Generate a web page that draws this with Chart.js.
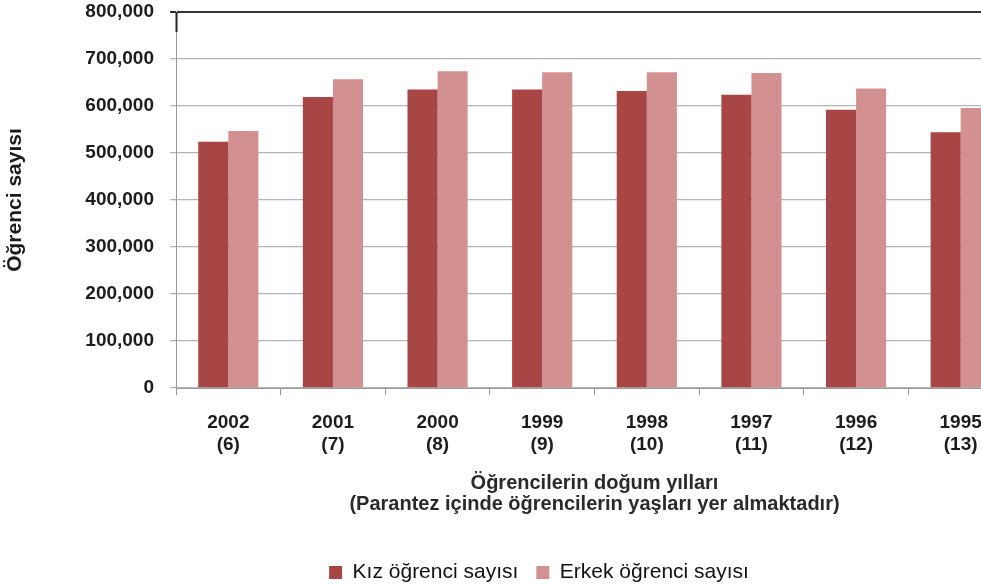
<!DOCTYPE html>
<html>
<head>
<meta charset="utf-8">
<script src="https://cdn.jsdelivr.net/npm/chart.js@4"></script>
<style>
html,body{margin:0;padding:0;background:#fff;overflow:hidden;width:981px;height:585px;}
canvas{display:block;}
</style>
</head>
<body>
<canvas id="c" width="1080" height="585"></canvas>
<script>
const years = ["2002","2001","2000","1999","1998","1997","1996","1995"];
const ages = ["(6)","(7)","(8)","(9)","(10)","(11)","(12)","(13)"];
const kiz = [524000, 619000, 635000, 635000, 632000, 624000, 592000, 544000];
const erkek = [547000, 657000, 674000, 672000, 672000, 670000, 637000, 596000];
const yTicks = [0, 100000, 200000, 300000, 400000, 500000, 600000, 700000, 800000];
const seriesNames = ["Kız öğrenci sayısı", "Erkek öğrenci sayısı"];
const yTitle = "Öğrenci sayısı";
const xTitle = ["Öğrencilerin doğum yılları", "(Parantez içinde öğrencilerin yaşları yer almaktadır)"];

const labels = years.map((y, i) => [y, ages[i]]);
const FONT = "'Liberation Sans', Arial, sans-serif";
const TXT = '#1c1c1c';

const axisMark = {
  id: 'axisMark',
  afterDraw(chart) {
    const a = chart.chartArea, ctx = chart.ctx;
    ctx.save();
    ctx.strokeStyle = '#222';
    ctx.lineWidth = 2;
    ctx.beginPath();
    ctx.moveTo(a.left + 0.5, a.top);
    ctx.lineTo(a.left + 0.5, a.top + 20);
    ctx.stroke();
    ctx.restore();
  }
};

new Chart(document.getElementById('c'), {
  type: 'bar',
  data: {
    labels: labels,
    datasets: [
      { label: seriesNames[0], data: kiz, backgroundColor: '#a84545', borderWidth: 0, yAxisID: 'y' },
      { label: seriesNames[1], data: erkek, backgroundColor: '#d39090', borderWidth: 0, yAxisID: 'y' }
    ]
  },
  plugins: [axisMark],
  options: {
    responsive: false,
    animation: false,
    layout: { padding: { top: 0, right: 2, left: 0, bottom: -8 } },
    datasets: { bar: { categoryPercentage: 0.575, barPercentage: 1.0 } },
    plugins: {
      legend: {
        position: 'bottom',
        labels: {
          font: { family: FONT, size: 21 },
          color: '#111',
          boxWidth: 13, boxHeight: 13,
          padding: 18
        }
      },
      tooltip: { enabled: false }
    },
    scales: {
      x: {
        afterFit: s => { s.height = 156; },
        grid: { offset: true, drawOnChartArea: false, color: '#999', tickLength: 7 },
        border: { color: '#999', width: 1 },
        ticks: { font: { family: FONT, size: 19, weight: 'bold', lineHeight: 1.16 }, color: TXT, padding: 17, maxRotation: 0 },
        title: {
          display: true,
          text: xTitle,
          font: { family: FONT, size: 20, weight: 'bold', lineHeight: 1.05 },
          color: '#2a2a2a',
          padding: { top: 0, bottom: 29 }
        }
      },
      y: {
        position: 'left',
        min: 0, max: 800000,
        afterFit: s => { s.width = 176; s.paddingTop = 12; s.paddingBottom = 0; },
        afterBuildTicks: s => { s.ticks = yTicks.map(v => ({ value: v })); },
        ticks: {
          font: { family: FONT, size: 19, weight: 'bold' },
          color: TXT,
          padding: 16,
          callback: v => v.toLocaleString('en-US')
        },
        grid: {
          color: ctx => (ctx.tick && ctx.tick.value === 800000) ? '#333' : '#b4b4b4',
          lineWidth: ctx => (ctx.tick && ctx.tick.value === 800000) ? 2 : 1.3,
          tickLength: 6
        },
        border: { color: '#999', width: 1 },
        title: {
          display: true,
          text: yTitle,
          font: { family: FONT, size: 21, weight: 'bold' },
          color: TXT,
          padding: { top: 3, bottom: 0 }
        }
      },
      yr: {
        position: 'right',
        display: true,
        afterFit: s => { s.width = 65; s.paddingTop = 0; s.paddingBottom = 0; },
        grid: { display: false },
        border: { display: false },
        ticks: { display: false }
      }
    }
  }
});
</script>
</body>
</html>
